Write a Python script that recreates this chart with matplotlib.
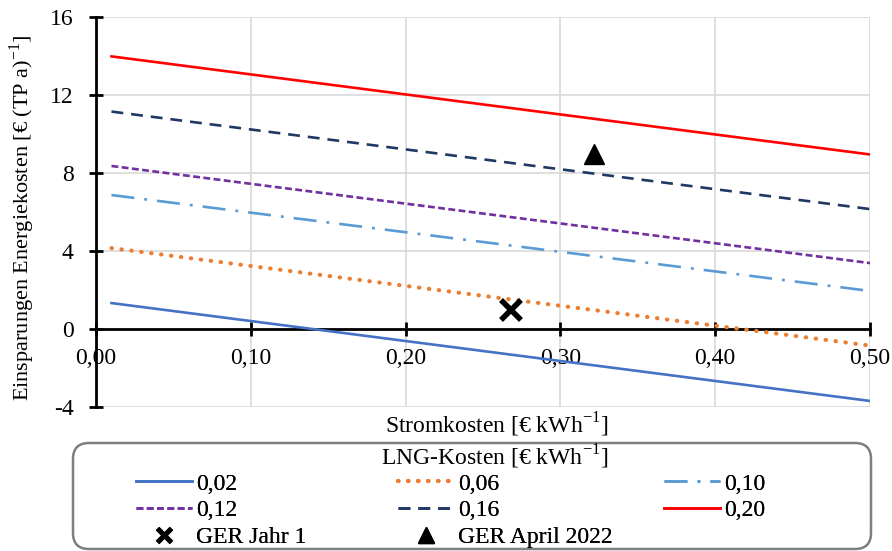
import matplotlib
matplotlib.use("Agg")
import matplotlib.pyplot as plt
from matplotlib.lines import Line2D
from matplotlib.patches import FancyBboxPatch

plt.rcParams['font.family'] = ['Liberation Serif', 'DejaVu Serif']
plt.rcParams['mathtext.fontset'] = 'custom'
plt.rcParams['mathtext.rm'] = 'Liberation Serif'
plt.rcParams['axes.unicode_minus'] = False

# Electricity cost range (start/end of each line)
strom = [0.01, 0.50]

# Savings per LNG price level [€ (TP a)^-1]
lng_labels = ["0,02", "0,06", "0,10", "0,12", "0,16", "0,20"]
savings_002 = [1.33, -3.69]
savings_006 = [4.15, -0.85]
savings_010 = [6.87, 1.95]
savings_012 = [8.36, 3.38]
savings_016 = [11.15, 6.15]
savings_020 = [13.98, 8.95]

# Reference points
ger_jahr1 = (0.268, 0.97)
ger_april = (0.322, 8.97)

x_ticks = [0.0, 0.1, 0.2, 0.3, 0.4, 0.5]
x_ticklabels = ["0,00", "0,10", "0,20", "0,30", "0,40", "0,50"]
y_ticks = [-4, 0, 4, 8, 12, 16]
y_ticklabels = ["-4", "0", "4", "8", "12", "16"]

FS = 17
W, H = 892, 551

fig = plt.figure(figsize=(W / 100, H / 100), dpi=100)
ax = fig.add_axes([96 / W, 1 - 407 / H, 774 / W, 390 / H])

lw = 1.9
styles = [
    dict(color="#4472C4", linestyle="-"),
    dict(color="#ED7D31", linestyle=(0, (0.1, 2.3)), dash_capstyle="round", linewidth=3.0),
    dict(color="#5B9BD5", linestyle=(0, (8.7, 3.8, 1.1, 3.8))),
    dict(color="#7030A0", linestyle=(0, (2.6, 1.3))),
    dict(color="#203864", linestyle=(0, (4.5, 3))),
    dict(color="#FF0000", linestyle="-"),
]
series = [savings_002, savings_006, savings_010, savings_012, savings_016, savings_020]
handles = []
for vals, lab, st in zip(series, lng_labels, styles):
    kw = dict(linewidth=lw)
    kw.update(st)
    h, = ax.plot(strom, vals, label=lab, **kw)
    handles.append(h)

ax.plot([ger_jahr1[0]], [ger_jahr1[1]], linestyle="none", marker="x",
        markersize=15, markeredgewidth=4, color="black")
ax.plot([ger_april[0]], [ger_april[1]], linestyle="none", marker="^",
        markersize=14, color="black")

ax.set_xlim(0, 0.5)
ax.set_ylim(-4, 16)
ax.set_xticks(x_ticks)
ax.set_xticklabels(x_ticklabels)
ax.set_yticks(y_ticks)
ax.set_yticklabels(y_ticklabels)
ax.grid(True, color="#D9D9D9", linewidth=1.2)
ax.set_axisbelow(True)

ax.spines['top'].set_visible(False)
ax.spines['right'].set_visible(False)
ax.spines['bottom'].set_position(('data', 0))
ax.spines['bottom'].set_zorder(1.5)
for s in ('left', 'bottom'):
    ax.spines[s].set_linewidth(2.0)
    ax.spines[s].set_color("black")
ax.tick_params(axis='both', direction='inout', length=10, width=2.0,
               labelsize=FS, colors="black")
ax.tick_params(axis='x', pad=9)
ax.tick_params(axis='y', pad=11)

ax.set_ylabel("Einsparungen Energiekosten [€ (TP a)$^{\\mathregular{-1}}$]", fontsize=16)
ax.yaxis.set_label_coords((37 - 96) / 774, 0.485)
fig.text(497 / W, 1 - 425 / H, "Stromkosten [€ kWh$^{\\mathregular{-1}}$]",
         ha="center", va="center", fontsize=FS)

# Legend frame and title
frame = FancyBboxPatch((0.73, 0.02), 7.98, 1.06,
                       boxstyle="round,pad=0,rounding_size=0.16",
                       transform=fig.dpi_scale_trans, facecolor="white",
                       edgecolor="#7F7F7F", linewidth=1.8)
fig.add_artist(frame)
fig.text(495 / W, 1 - 457 / H, "LNG-Kosten [€ kWh$^{\\mathregular{-1}}$]",
         ha="center", va="center", fontsize=FS)

mx = Line2D([], [], linestyle="none", marker="x", markersize=10,
            markeredgewidth=3.5, color="black")
mt = Line2D([], [], linestyle="none", marker="^", markersize=12, color="black")

columns = [
    ([handles[0], handles[3], mx], ["0,02", "0,12", "GER Jahr 1"], 136),
    ([handles[1], handles[4], mt], ["0,06", "0,16", "GER April 2022"], 398),
    ([handles[2], handles[5]], ["0,10", "0,20"], 664),
]
for hs, labs, xpx in columns:
    lg = fig.legend(hs, labs, loc="upper left",
                    bbox_to_anchor=(xpx / W, 1 - 473 / H),
                    frameon=False, fontsize=FS, handlelength=2.37,
                    handletextpad=0.17, labelspacing=0.22, borderpad=0,
                    borderaxespad=0)
    fig.add_artist(lg)

fig.savefig("out.png", dpi=100)
